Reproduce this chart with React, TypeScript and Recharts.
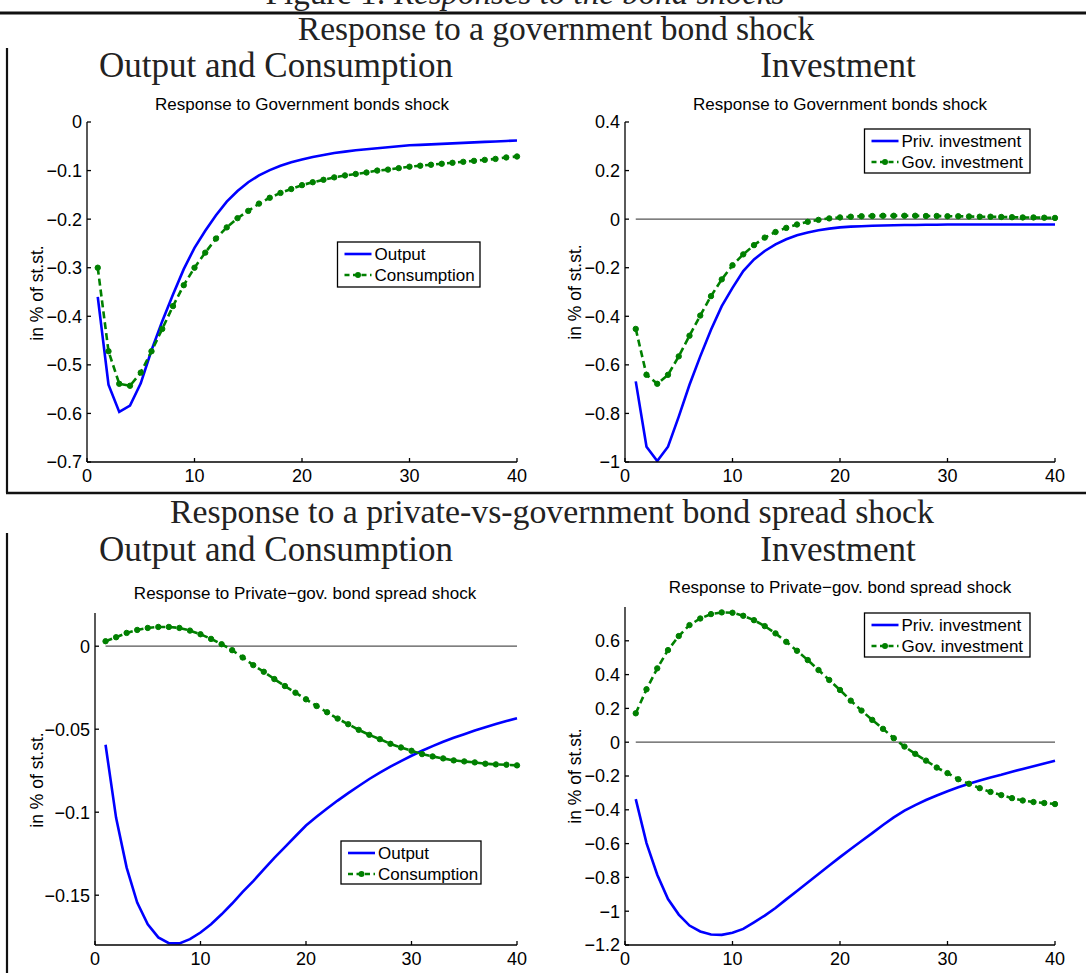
import { Line, LineChart, ReferenceLine, XAxis, YAxis } from 'recharts';

// horizon (quarters)
const periods = [
  1, 2, 3, 4, 5, 6, 7, 8, 9, 10, 11, 12, 13, 14, 15, 16, 17, 18, 19, 20,
  21, 22, 23, 24, 25, 26, 27, 28, 29, 30, 31, 32, 33, 34, 35, 36, 37, 38, 39, 40,
];
const xTicks = [0, 10, 20, 30, 40];

// government bond shock
const govOutput = [
  -0.36, -0.541, -0.597, -0.584, -0.538, -0.47, -0.41, -0.355, -0.303, -0.259,
  -0.224, -0.192, -0.164, -0.142, -0.124, -0.11, -0.099, -0.09, -0.083, -0.077,
  -0.072, -0.068, -0.064, -0.061, -0.058, -0.056, -0.054, -0.052, -0.05, -0.048,
  -0.047, -0.046, -0.045, -0.044, -0.043, -0.042, -0.041, -0.04, -0.039, -0.038,
];
const govConsumption = [
  -0.3, -0.472, -0.539, -0.543, -0.516, -0.472, -0.426, -0.379, -0.336, -0.3,
  -0.269, -0.24, -0.217, -0.198, -0.183, -0.168, -0.156, -0.146, -0.138, -0.13,
  -0.124, -0.119, -0.114, -0.11, -0.107, -0.104, -0.1, -0.098, -0.095, -0.092,
  -0.09, -0.088, -0.086, -0.084, -0.082, -0.08, -0.078, -0.076, -0.073, -0.071,
];
const govPrivInvestment = [
  -0.668, -0.937, -0.996, -0.937, -0.813, -0.682, -0.565, -0.455, -0.358, -0.283,
  -0.214, -0.166, -0.131, -0.104, -0.083, -0.066, -0.055, -0.046, -0.039, -0.034,
  -0.031, -0.029, -0.027, -0.026, -0.025, -0.024, -0.024, -0.023, -0.023, -0.022,
  -0.022, -0.022, -0.022, -0.022, -0.022, -0.022, -0.022, -0.022, -0.022, -0.022,
];
const govGovInvestment = [
  -0.452, -0.641, -0.678, -0.641, -0.565, -0.48, -0.397, -0.317, -0.248, -0.19,
  -0.145, -0.107, -0.076, -0.053, -0.036, -0.022, -0.011, -0.003, 0.003, 0.007,
  0.01, 0.012, 0.013, 0.014, 0.014, 0.014, 0.014, 0.013, 0.013, 0.012,
  0.012, 0.011, 0.01, 0.01, 0.009, 0.008, 0.007, 0.007, 0.006, 0.005,
];

// private-vs-government bond spread shock
const spreadOutput = [
  -0.0594, -0.1034, -0.1334, -0.1544, -0.1675, -0.1754, -0.1789, -0.179, -0.1765, -0.1725,
  -0.1675, -0.1615, -0.155, -0.148, -0.1415, -0.1345, -0.1275, -0.121, -0.1145, -0.108,
  -0.1028, -0.0978, -0.093, -0.0885, -0.0842, -0.08, -0.0762, -0.0726, -0.0692, -0.066,
  -0.063, -0.0602, -0.0576, -0.0552, -0.053, -0.0508, -0.0488, -0.0469, -0.0451, -0.0434,
];
const spreadConsumption = [
  0.003, 0.0054, 0.008, 0.0098, 0.011, 0.0116, 0.0116, 0.011, 0.0094, 0.0072,
  0.0044, 0.0012, -0.0024, -0.0068, -0.0114, -0.0154, -0.0198, -0.024, -0.028, -0.032,
  -0.036, -0.0398, -0.0436, -0.047, -0.0504, -0.0534, -0.056, -0.0588, -0.061, -0.063,
  -0.065, -0.0664, -0.0676, -0.0688, -0.0694, -0.07, -0.0708, -0.0712, -0.0714, -0.0718,
];
const spreadPrivInvestment = [
  -0.337, -0.597, -0.784, -0.928, -1.02, -1.085, -1.12, -1.138, -1.14, -1.128,
  -1.105, -1.066, -1.026, -0.981, -0.93, -0.88, -0.83, -0.78, -0.73, -0.68,
  -0.632, -0.585, -0.538, -0.49, -0.445, -0.405, -0.372, -0.342, -0.315, -0.29,
  -0.267, -0.246, -0.227, -0.209, -0.193, -0.175, -0.158, -0.142, -0.126, -0.11,
];
const spreadGovInvestment = [
  0.171, 0.313, 0.437, 0.545, 0.628, 0.693, 0.732, 0.758, 0.768, 0.766,
  0.748, 0.722, 0.687, 0.644, 0.594, 0.541, 0.486, 0.427, 0.368, 0.309,
  0.246, 0.187, 0.132, 0.079, 0.024, -0.026, -0.069, -0.109, -0.15, -0.183,
  -0.219, -0.246, -0.272, -0.294, -0.313, -0.331, -0.345, -0.354, -0.36, -0.366,
];

const govOutputTicks = [-0.7, -0.6, -0.5, -0.4, -0.3, -0.2, -0.1, 0];
const govInvestTicks = [-1, -0.8, -0.6, -0.4, -0.2, 0, 0.2, 0.4];
const spreadOutputTicks = [-0.15, -0.1, -0.05, 0];
const spreadInvestTicks = [-1.2, -1, -0.8, -0.6, -0.4, -0.2, 0, 0.2, 0.4, 0.6];

const outputNames = ['Output', 'Consumption'];
const investNames = ['Priv. investment', 'Gov. investment'];

const BLUE = '#0000ff';
const GREEN = '#008000';
const SANS = '"Liberation Sans", Arial, sans-serif';
const SERIF = '"Liberation Serif", "Times New Roman", serif';
const FS = 17;
const TICK_FS = 18;
const AXIS_W = 70;
const AXIS_H = 40;
const PAD = 10;
const AXIS_LINE = { stroke: '#000', strokeWidth: 1.3 };

const fmtTick = (v: number) => (v === 0 ? '0' : String(v).replace('-', '\u2212'));
const blank = () => '';

// matlab-style tick labels
function XTickLabel({ x, y, payload }: any) {
  return (
    <text x={x} y={y} dy="0.71em" textAnchor="middle" fontSize={TICK_FS} fontFamily={SANS} fill="#000">
      {fmtTick(payload.value)}
    </text>
  );
}

function YTickLabel({ x, y, payload }: any) {
  return (
    <text x={x} y={y} dy="0.36em" textAnchor="end" fontSize={TICK_FS} fontFamily={SANS} fill="#000">
      {fmtTick(payload.value)}
    </text>
  );
}

type Box = { left: number; top: number; width: number; height: number };

function Panel({
  box,
  solid,
  dashed,
  domain,
  ticks,
  zeroLine,
}: {
  box: Box;
  solid: number[];
  dashed: number[];
  domain: [number, number];
  ticks: number[];
  zeroLine?: boolean;
}) {
  const data = periods.map((t, i) => ({ t, solid: solid[i], dashed: dashed[i] }));
  return (
    <div style={{ position: 'absolute', left: box.left - AXIS_W, top: box.top - PAD }}>
      <LineChart
        width={box.width + AXIS_W + PAD}
        height={box.height + PAD + AXIS_H}
        data={data}
        margin={{ top: PAD, right: PAD, bottom: 0, left: 0 }}
      >
        <XAxis
          dataKey="t"
          type="number"
          domain={[0, 40]}
          ticks={xTicks}
          height={AXIS_H}
          tickSize={-4}
          tickMargin={11}
          tick={<XTickLabel />}
          axisLine={AXIS_LINE}
          tickLine={AXIS_LINE}
          interval={0}
        />
        <XAxis
          xAxisId="top"
          dataKey="t"
          orientation="top"
          type="number"
          domain={[0, 40]}
          ticks={xTicks}
          height={0}
          tickSize={-4}
          tickFormatter={blank}
          axisLine={AXIS_LINE}
          tickLine={AXIS_LINE}
          interval={0}
        />
        <YAxis
          type="number"
          domain={domain}
          ticks={ticks}
          allowDataOverflow
          width={AXIS_W}
          tickSize={-4}
          tickMargin={9}
          tick={<YTickLabel />}
          axisLine={AXIS_LINE}
          tickLine={AXIS_LINE}
          interval={0}
        />
        <YAxis
          yAxisId="right"
          orientation="right"
          type="number"
          domain={domain}
          ticks={ticks}
          allowDataOverflow
          width={0}
          tickSize={-4}
          tickFormatter={blank}
          axisLine={AXIS_LINE}
          tickLine={AXIS_LINE}
          interval={0}
        />
        {zeroLine && (
          <ReferenceLine
            segment={[
              { x: periods[0], y: 0 },
              { x: periods[periods.length - 1], y: 0 },
            ]}
            stroke="#555"
            strokeWidth={1.2}
          />
        )}
        <Line
          type="linear"
          dataKey="solid"
          stroke={BLUE}
          strokeWidth={2.6}
          dot={false}
          isAnimationActive={false}
        />
        <Line
          type="linear"
          dataKey="dashed"
          stroke={GREEN}
          strokeWidth={2.6}
          strokeDasharray="7 4"
          dot={{ r: 2.7, fill: GREEN, stroke: GREEN, strokeWidth: 1, strokeDasharray: 'none' }}
          isAnimationActive={false}
        />
      </LineChart>
    </div>
  );
}

function LegendBox({
  x,
  y,
  w,
  h,
  names,
}: {
  x: number;
  y: number;
  w: number;
  h: number;
  names: string[];
}) {
  const r1 = y + 12;
  const r2 = y + 33;
  return (
    <g>
      <rect x={x} y={y} width={w} height={h} fill="#fff" stroke="#000" strokeWidth={1.3} />
      <line x1={x + 7} x2={x + 34} y1={r1} y2={r1} stroke={BLUE} strokeWidth={2.6} />
      <line x1={x + 7} x2={x + 34} y1={r2} y2={r2} stroke={GREEN} strokeWidth={2.6} strokeDasharray="5 3.5" />
      <circle cx={x + 20.5} cy={r2} r={3} fill={GREEN} />
      <text x={x + 37} y={r1 + 6} fontSize={FS} fontFamily={SANS}>
        {names[0]}
      </text>
      <text x={x + 37} y={r2 + 6} fontSize={FS} fontFamily={SANS}>
        {names[1]}
      </text>
    </g>
  );
}

function YLabel({ x, y }: { x: number; y: number }) {
  return (
    <text
      x={x}
      y={y}
      transform={`rotate(-90 ${x} ${y})`}
      textAnchor="middle"
      fontSize={17.5}
      fontFamily={SANS}
    >
      in % of st.st.
    </text>
  );
}

export default function App() {
  const head = { fontFamily: SERIF, fill: '#222', textAnchor: 'middle' as const };
  const sub = { fontFamily: SANS, fontSize: FS, fill: '#000', textAnchor: 'middle' as const };
  return (
    <div
      style={{
        position: 'absolute',
        left: 0,
        top: 0,
        width: 1086,
        height: 973,
        background: '#fff',
        overflow: 'hidden',
      }}
    >
      <Panel
        box={{ left: 87, top: 122, width: 430, height: 340 }}
        solid={govOutput}
        dashed={govConsumption}
        domain={[-0.7, 0]}
        ticks={govOutputTicks}
      />
      <Panel
        box={{ left: 625, top: 122, width: 430, height: 340 }}
        solid={govPrivInvestment}
        dashed={govGovInvestment}
        domain={[-1, 0.4]}
        ticks={govInvestTicks}
        zeroLine
      />
      <Panel
        box={{ left: 95, top: 613, width: 422, height: 332 }}
        solid={spreadOutput}
        dashed={spreadConsumption}
        domain={[-0.18, 0.02]}
        ticks={spreadOutputTicks}
        zeroLine
      />
      <Panel
        box={{ left: 625, top: 607, width: 430, height: 338 }}
        solid={spreadPrivInvestment}
        dashed={spreadGovInvestment}
        domain={[-1.2, 0.8]}
        ticks={spreadInvestTicks}
        zeroLine
      />

      <svg
        width={1086}
        height={973}
        style={{ position: 'absolute', left: 0, top: 0, pointerEvents: 'none' }}
      >
        <text x={525} y={4} fontSize={33} {...head}>
          Figure 1: <tspan fontStyle="italic">Responses to the bond shocks</tspan>
        </text>
        <line x1={0} x2={1086} y1={13} y2={13} stroke="#111" strokeWidth={3} />
        <text x={556} y={40} fontSize={33.5} {...head}>
          Response to a government bond shock
        </text>
        <line x1={7} x2={7} y1={48} y2={493} stroke="#111" strokeWidth={2.2} />
        <text x={276} y={77} fontSize={35} {...head}>
          Output and Consumption
        </text>
        <text x={838} y={77} fontSize={35} {...head}>
          Investment
        </text>
        <text x={302} y={110} {...sub}>
          Response to Government bonds shock
        </text>
        <text x={840} y={110} {...sub}>
          Response to Government bonds shock
        </text>

        <line x1={6} x2={1086} y1={493} y2={493} stroke="#111" strokeWidth={2.5} />
        <text x={552} y={523} fontSize={33.8} {...head}>
          Response to a private-vs-government bond spread shock
        </text>
        <line x1={7} x2={7} y1={533} y2={973} stroke="#111" strokeWidth={2.2} />
        <text x={276} y={561} fontSize={35} {...head}>
          Output and Consumption
        </text>
        <text x={838} y={561} fontSize={35} {...head}>
          Investment
        </text>
        <text x={305} y={599} {...sub}>
          Response to Private{'\u2212'}gov. bond spread shock
        </text>
        <text x={840} y={593} {...sub}>
          Response to Private{'\u2212'}gov. bond spread shock
        </text>

        <YLabel x={43} y={293} />
        <YLabel x={581} y={292} />
        <YLabel x={43} y={780} />
        <YLabel x={581} y={776} />

        <LegendBox x={337.5} y={242} w={142.5} h={45} names={outputNames} />
        <LegendBox x={864.5} y={129} w={165.5} h={44} names={investNames} />
        <LegendBox x={341} y={841} w={140} h={43} names={outputNames} />
        <LegendBox x={864.5} y={613} w={165.5} h={44} names={investNames} />
      </svg>
    </div>
  );
}
